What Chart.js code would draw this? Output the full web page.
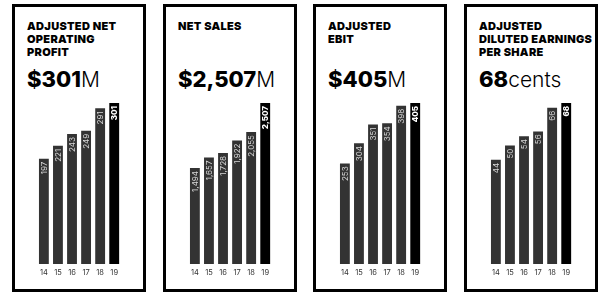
<!DOCTYPE html>
<html>
<head>
<meta charset="utf-8">
<script src="https://cdn.jsdelivr.net/npm/chart.js@4"></script>
<style>
  html, body { margin: 0; padding: 0; background: #fff; }
  body { width: 611px; height: 307px; position: relative; overflow: hidden; font-family: Inter, "Open Sans", sans-serif; }
  .panel { position: absolute; top: 4px; width: 134px; height: 288px; box-sizing: border-box; border: 3px solid #000; }
  .title { position: absolute; left: 12px; top: 13px; font-size: 11px; line-height: 13px; font-weight: 900; letter-spacing: 0.3px; color: #000; white-space: nowrap; }
  .value { position: absolute; left: 12px; top: 61px; font-size: 22px; line-height: 22px; font-weight: 800; color: #000; white-space: nowrap; }
  .value span { font-weight: 300; font-size: 21px; }
  .chart { position: absolute; left: 21px; top: 91px; width: 86px; height: 182px; }
</style>
</head>
<body>
<script>
const years = ['14', '15', '16', '17', '18', '19'];
const netOperatingProfit = [197, 221, 243, 249, 291, 301];
const netSales = [1494, 1657, 1728, 1922, 2055, 2507];
const adjustedEbit = [253, 304, 351, 354, 398, 405];
const dilutedEps = [44, 50, 54, 56, 66, 68];

const panels = [
    { title: 'ADJUSTED NET<br>OPERATING<br>PROFIT', big: '$301', unit: 'M', data: netOperatingProfit },
    { title: 'NET SALES', big: '$2,507', unit: 'M', data: netSales },
    { title: 'ADJUSTED<br>EBIT', big: '$405', unit: 'M', data: adjustedEbit },
    { title: 'ADJUSTED<br>DILUTED EARNINGS<br>PER SHARE', big: '68', unit: 'cents', data: dilutedEps },
];
const lefts = [12, 163, 313, 464];

// writes the value sideways at the top of each bar
const barLabels = {
    id: 'barLabels',
    afterDatasetsDraw(chart) {
        const ctx = chart.ctx;
        const meta = chart.getDatasetMeta(0);
        const vals = chart.data.datasets[0].data;
        meta.data.forEach((bar, i) => {
            const last = i === vals.length - 1;
            ctx.save();
            ctx.translate(bar.x, bar.y + 3);
            ctx.rotate(-Math.PI / 2);
            ctx.font = (last ? '800 ' : '400 ') + '8px Inter';
            ctx.fillStyle = last ? '#fff' : '#d8d8d8';
            ctx.textAlign = 'right';
            ctx.textBaseline = 'middle';
            ctx.fillText(vals[i].toLocaleString('en-US'), 0, 0.5);
            ctx.restore();
        });
    }
};

panels.forEach((p, k) => {
    const div = document.createElement('div');
    div.className = 'panel';
    div.style.left = lefts[k] + 'px';
    div.innerHTML = '<div class="title">' + p.title + '</div>' +
        '<div class="value">' + p.big + '<span>' + p.unit + '</span></div>' +
        '<div class="chart"><canvas></canvas></div>';
    document.body.appendChild(div);

    new Chart(div.querySelector('canvas'), {
        type: 'bar',
        data: {
            labels: years,
            datasets: [{
                data: p.data,
                backgroundColor: p.data.map((v, i) => i === p.data.length - 1 ? '#000' : '#333'),
                borderWidth: 0,
                barPercentage: 0.7,
                categoryPercentage: 1,
            }]
        },
        options: {
            animation: false,
            responsive: true,
            maintainAspectRatio: false,
            layout: { padding: { top: 5, bottom: 0, left: 0, right: 0 } },
            scales: {
                y: { display: false, min: 0, max: Math.max(...p.data) },
                x: {
                    grid: { display: false, drawTicks: false },
                    border: { display: false },
                    afterFit: (scale) => { scale.height = 16; },
                    ticks: { color: '#333', padding: 4, maxRotation: 0, minRotation: 0, font: { family: 'Inter', size: 7.5 } }
                }
            },
            plugins: { legend: { display: false }, tooltip: { enabled: false } }
        },
        plugins: [barLabels]
    });
});
</script>
</body>
</html>
